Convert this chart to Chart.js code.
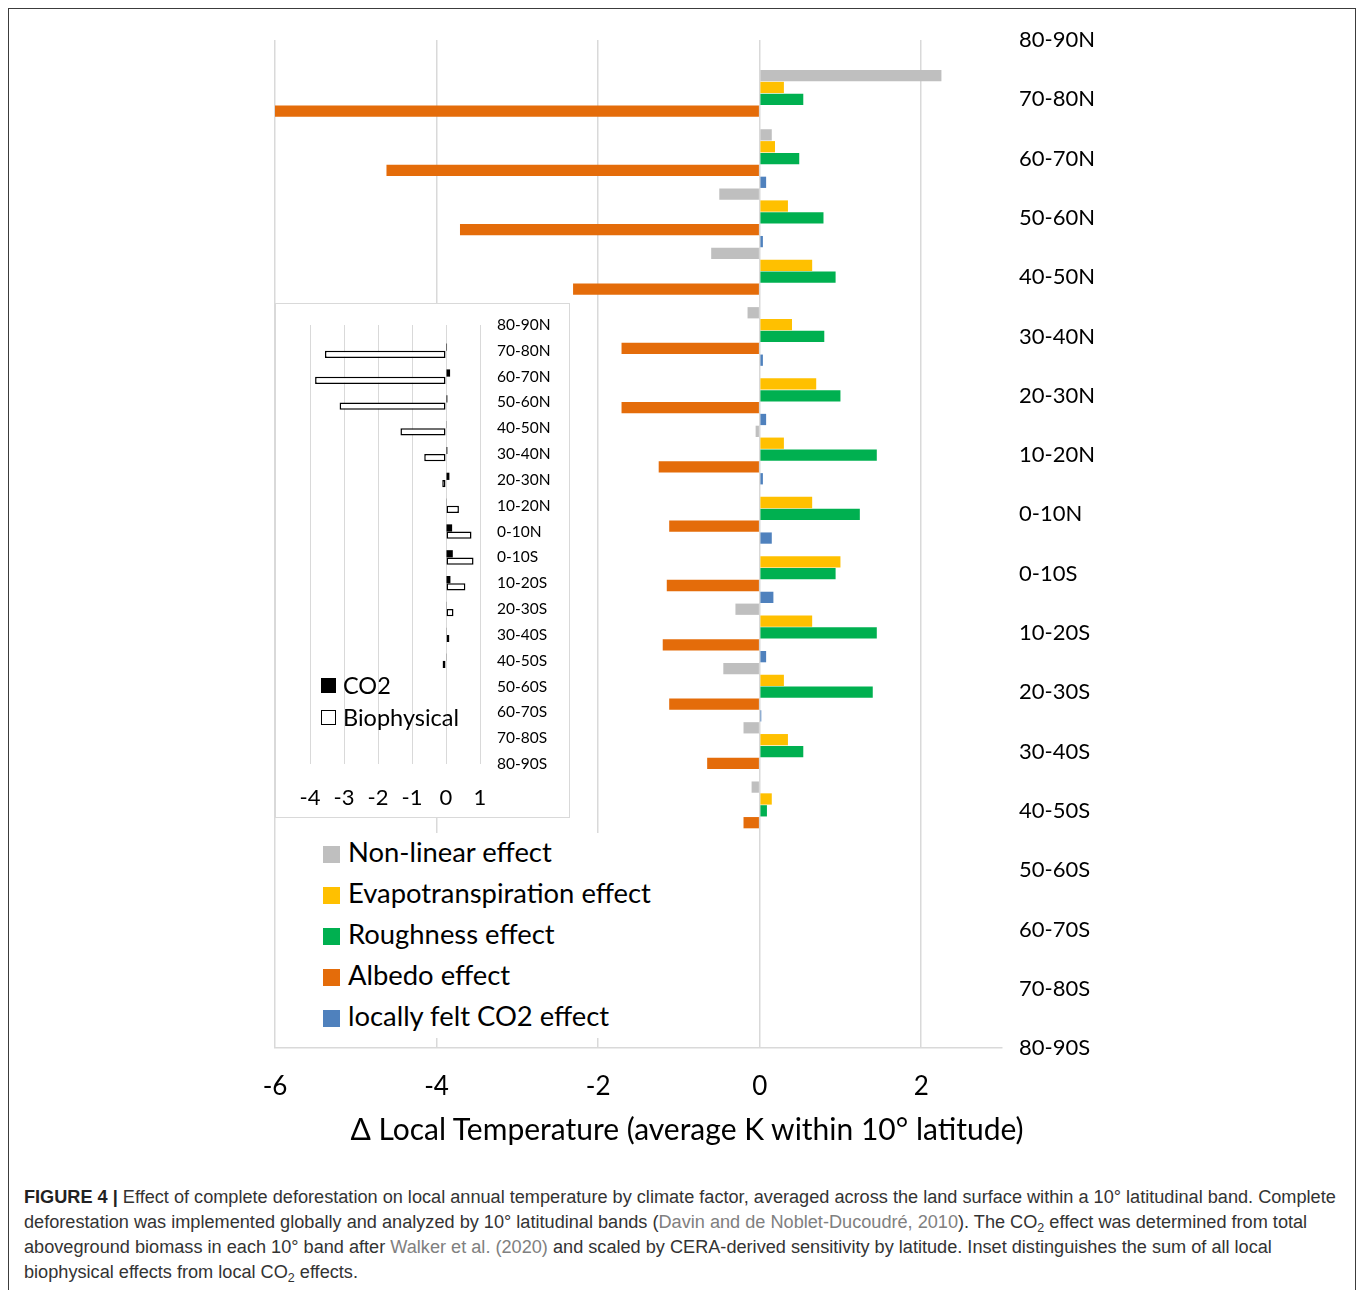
<!DOCTYPE html>
<html>
<head>
<meta charset="utf-8">
<script src="https://cdn.jsdelivr.net/npm/chart.js@4.4.1/dist/chart.umd.min.js"></script>
<style>
  html, body { margin: 0; padding: 0; background: #fff; }
  body { width: 1360px; height: 1290px; position: relative; overflow: hidden; font-family: Lato, sans-serif; }
  #frame { position: absolute; left: 8px; top: 8px; width: 1348px; height: 1300px; box-sizing: border-box; border: 1.5px solid #3c3c3c; }
  #mainCanvas { position: absolute; left: 0; top: 0; }
  #inset { position: absolute; left: 275px; top: 303px; width: 295px; height: 515px; box-sizing: border-box; border: 1px solid #d9d9d9; background: #fff; }
  #insetCanvas { position: absolute; left: 0; top: 0; }
  .ileg { position: absolute; font-family: Lato, sans-serif; font-size: 23.5px; color: #000; line-height: 22px; }
  .isq { position: absolute; width: 15px; height: 15px; box-sizing: border-box; }
  #legend { position: absolute; left: 286px; top: 833px; width: 420px; height: 205px; background: #fff; }
  .lrow { position: absolute; left: 37px; height: 30px; font-family: Lato, sans-serif; font-size: 27.4px; color: #000; line-height: 30px; white-space: nowrap; }
  .lsq { display: inline-block; width: 17px; height: 17px; margin-right: 8px; vertical-align: -1px; }
  #xtitle { position: absolute; left: 687px; top: 1128px; transform: translate(-50%, -50%); font-family: Lato, sans-serif; font-size: 30px; color: #000; white-space: nowrap; }
  #caption { position: absolute; left: 24px; top: 1185px; font-family: "Liberation Sans", Arial, sans-serif; font-size: 18.15px; line-height: 25px; color: #333; white-space: nowrap; }
  #caption b { color: #222; }
  #caption .ref { color: #808080; }
  #caption sub { font-size: 12.5px; vertical-align: -4px; line-height: 0; }
</style>
</head>
<body>
<div id="frame"></div>
<canvas id="mainCanvas" width="1360" height="1170"></canvas>

<div id="legend">
  <div class="lrow" style="top:4px"><span class="lsq" style="background:#BFBFBF"></span>Non-linear effect</div>
  <div class="lrow" style="top:45px"><span class="lsq" style="background:#FFC000"></span>Evapotranspiration effect</div>
  <div class="lrow" style="top:86px"><span class="lsq" style="background:#00B050"></span>Roughness effect</div>
  <div class="lrow" style="top:127px"><span class="lsq" style="background:#E46C0A"></span>Albedo effect</div>
  <div class="lrow" style="top:168px"><span class="lsq" style="background:#4F81BD"></span>locally felt CO2 effect</div>
</div>

<div id="inset">
  <canvas id="insetCanvas" width="293" height="513"></canvas>
  <div class="isq" style="left:45px; top:374px; background:#000;"></div>
  <div class="ileg" style="left:67px; top:370px;">CO2</div>
  <div class="isq" style="left:45px; top:406px; background:#fff; border:1.5px solid #000;"></div>
  <div class="ileg" style="left:67px; top:402px;">Biophysical</div>
</div>

<div id="xtitle">Δ Local Temperature (average K within 10° latitude)</div>

<div id="caption"><b>FIGURE 4 |</b> Effect of complete deforestation on local annual temperature by climate factor, averaged across the land surface within a 10° latitudinal band. Complete<br>deforestation was implemented globally and analyzed by 10° latitudinal bands (<span class="ref">Davin and de Noblet-Ducoudré, 2010</span>). The CO<sub>2</sub> effect was determined from total<br>aboveground biomass in each 10° band after <span class="ref">Walker et al. (2020)</span> and scaled by CERA-derived sensitivity by latitude. Inset distinguishes the sum of all local<br>biophysical effects from local CO<sub>2</sub> effects.</div>

<script>
// ---- Data ----
const categories = ['80-90N','70-80N','60-70N','50-60N','40-50N','30-40N','20-30N','10-20N','0-10N',
                    '0-10S','10-20S','20-30S','30-40S','40-50S','50-60S','60-70S','70-80S','80-90S'];

// Main chart series (K)
const nonLinear     = [null, 2.25, 0.15, -0.50, -0.60, -0.15, 0.00, -0.05, 0.00, 0.00, -0.30, -0.45, -0.20, -0.10, null, null, null, null];
const evapotransp   = [null, 0.30, 0.19,  0.35,  0.65,  0.40, 0.70,  0.30, 0.65, 1.00,  0.65,  0.30,  0.35,  0.15, null, null, null, null];
const roughness     = [null, 0.54, 0.49,  0.79,  0.94,  0.80, 1.00,  1.45, 1.24, 0.94,  1.45,  1.40,  0.54,  0.09, null, null, null, null];
const albedo        = [null,-6.00,-4.62, -3.71, -2.31, -1.71,-1.71, -1.25,-1.12,-1.15, -1.20, -1.12, -0.65, -0.20, null, null, null, null];
const localCO2      = [null, 0.00, 0.08,  0.04,  0.00,  0.04, 0.08,  0.04, 0.15, 0.17,  0.08,  0.02,  0.00,  0.00, null, null, null, null];

// Inset series (K)
const insetCO2      = [null, 0.03, 0.12,  0.04,  0.02,  0.04, 0.10,  0.02, 0.18, 0.20,  0.13,  0.02,  0.01,  0.01, null, null, null, null];
const insetBio      = [null,-3.56,-3.85, -3.13, -1.34, -0.64,-0.11,  0.38, 0.75, 0.81,  0.57,  0.22,  0.10, -0.10, null, null, null, null];

// Axis settings
const mainXMin = -6, mainXMax = 3, mainXStep = 2;
const insetXMin = -4, insetXMax = 1, insetXStep = 1;

// ---- Main chart ----
const gridGray = '#d9d9d9';
function ds(label, data, color) {
  return { label, data, backgroundColor: color, borderWidth: 0,
           barPercentage: 0.95, categoryPercentage: 1.0 };
}

new Chart(document.getElementById('mainCanvas'), {
  type: 'bar',
  data: {
    labels: categories,
    datasets: [
      ds('Non-linear effect', nonLinear, '#BFBFBF'),
      ds('Evapotranspiration effect', evapotransp, '#FFC000'),
      ds('Roughness effect', roughness, '#00B050'),
      ds('Albedo effect', albedo, '#E46C0A'),
      ds('locally felt CO2 effect', localCO2, '#4F81BD')
    ]
  },
  options: {
    indexAxis: 'y',
    responsive: false,
    animation: false,
    layout: { padding: { left: 275, top: 40, right: 0, bottom: 0 } },
    plugins: { legend: { display: false }, tooltip: { enabled: false } },
    scales: {
      x: {
        type: 'linear', position: 'bottom',
        min: mainXMin, max: mainXMax,
        ticks: { stepSize: mainXStep, includeBounds: false, padding: 23,
                 font: { family: 'Lato', size: 26 }, color: '#000' },
        grid: { color: gridGray, lineWidth: 1.5, drawTicks: false },
        border: { display: true, color: gridGray, width: 1.5 },
        afterFit: (s) => { s.height = 122; }
      },
      y: {
        type: 'category', position: 'right', offset: false,
        grid: { display: false, drawTicks: false },
        border: { display: false },
        ticks: { padding: 17, font: { family: 'Lato', size: 22 }, color: '#000', autoSkip: false },
        afterFit: (s) => { s.width = 358; s.paddingTop = 0; s.paddingBottom = 0; }
      }
    }
  }
});

// ---- Inset chart ----
new Chart(document.getElementById('insetCanvas'), {
  type: 'bar',
  data: {
    labels: categories,
    datasets: [
      { label: 'CO2', data: insetCO2, backgroundColor: '#000', borderWidth: 0,
        barPercentage: 1.0, categoryPercentage: 0.56 },
      { label: 'Biophysical', data: insetBio, backgroundColor: '#fff', borderColor: '#000',
        borderWidth: 1.5, borderSkipped: false, barPercentage: 1.0, categoryPercentage: 0.56 }
    ]
  },
  options: {
    indexAxis: 'y',
    responsive: false,
    animation: false,
    layout: { padding: { left: 34, top: 21, right: 0, bottom: 0 } },
    plugins: { legend: { display: false }, tooltip: { enabled: false } },
    scales: {
      x: {
        type: 'linear', position: 'bottom',
        min: insetXMin, max: insetXMax,
        ticks: { stepSize: insetXStep, padding: 21,
                 font: { family: 'Lato', size: 22 }, color: '#000' },
        grid: { color: gridGray, lineWidth: 1, drawTicks: false },
        border: { display: false },
        afterFit: (s) => { s.height = 53; }
      },
      y: {
        type: 'category', position: 'right', offset: false,
        grid: { display: false, drawTicks: false },
        border: { display: false },
        ticks: { padding: 17, font: { family: 'Lato', size: 15.5 }, color: '#000', autoSkip: false },
        afterFit: (s) => { s.width = 89; s.paddingTop = 0; s.paddingBottom = 0; }
      }
    }
  }
});
</script>
</body>
</html>
